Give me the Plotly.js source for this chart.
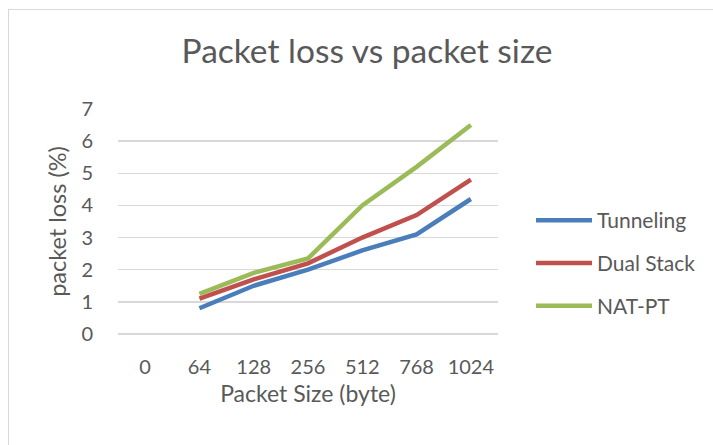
<!DOCTYPE html>
<html>
<head>
<meta charset="utf-8">
<script src="https://cdn.plot.ly/plotly-3.0.1.min.js"></script>
<style>
  html, body { margin: 0; padding: 0; background: #fff; }
  #wrap { position: relative; width: 713px; height: 445px; overflow: hidden; }
  #chart { position: absolute; left: 0; top: 0; width: 713px; height: 445px; }
  #frame { position: absolute; left: 8px; top: 9px; width: 720px; height: 460px;
           border-top: 1.5px solid #d9d9d9; border-left: 1.5px solid #d9d9d9; pointer-events: none; }
</style>
</head>
<body>
<div id="wrap"><div id="chart"></div><div id="frame"></div></div>
<script>
const categories = ["0", "64", "128", "256", "512", "768", "1024"];
const tunneling = [null, 0.8, 1.5, 2.0, 2.6, 3.1, 4.2];
const dualStack = [null, 1.1, 1.7, 2.2, 3.0, 3.7, 4.8];
const natPt     = [null, 1.25, 1.9, 2.35, 4.0, 5.2, 6.5];
const seriesNames = ["Tunneling", "Dual Stack", "NAT-PT"];
const colors = ["#4a7ebb", "#c0504d", "#9bbb59"];

const font = "Lato, Carlito, Calibri, 'Open Sans', sans-serif";
const values = [tunneling, dualStack, natPt];
const traces = values.map((v, i) => ({
  x: categories, y: v, type: "scatter", mode: "lines", name: seriesNames[i],
  legendgroup: "g" + i,
  line: {color: colors[i], width: 4.5}, connectgaps: false
}));

const layout = {
  width: 713, height: 445,
  margin: {l: 118, r: 215, t: 109, b: 111},
  paper_bgcolor: "#ffffff", plot_bgcolor: "#ffffff",
  title: {text: "Packet loss vs packet size", x: 367/713, xref: "container", xanchor: "center",
          y: 1 - 51/445, yanchor: "middle",
          font: {family: font, size: 33.5, weight: 400, color: "#595959"}},
  xaxis: {type: "category", range: [-0.5, 6.5], showgrid: false, zeroline: false,
          showline: false, ticks: "", ticklabelstandoff: 19,
          tickfont: {family: font, size: 20, weight: 400, color: "#595959"},
          title: {text: "Packet Size (byte)", standoff: 8, font: {family: font, size: 23, weight: 400, color: "#595959"}}},
  yaxis: {range: [0, 7], dtick: 1, tick0: 0, showgrid: true, gridcolor: "#d9d9d9", gridwidth: 1.5,
          zeroline: true, zerolinecolor: "#d9d9d9", zerolinewidth: 1.5, showline: false, ticks: "",
          ticklabelstandoff: 24,
          tickfont: {family: font, size: 20, weight: 400, color: "#595959"},
          title: {text: "packet loss (%)", standoff: 8, font: {family: font, size: 23.5, weight: 400, color: "#595959"}}},
  legend: {x: 531/713, xanchor: "left", y: 1 - 200/445, yanchor: "top", xref: "container", yref: "container",
           font: {family: font, size: 21, weight: 400, color: "#595959"}, tracegroupgap: 12.5,
           traceorder: "grouped", itemwidth: 56, bgcolor: "rgba(0,0,0,0)"},
  showlegend: true
};
Plotly.newPlot("chart", traces, layout, {displayModeBar: false, staticPlot: true});
</script>
</body>
</html>
